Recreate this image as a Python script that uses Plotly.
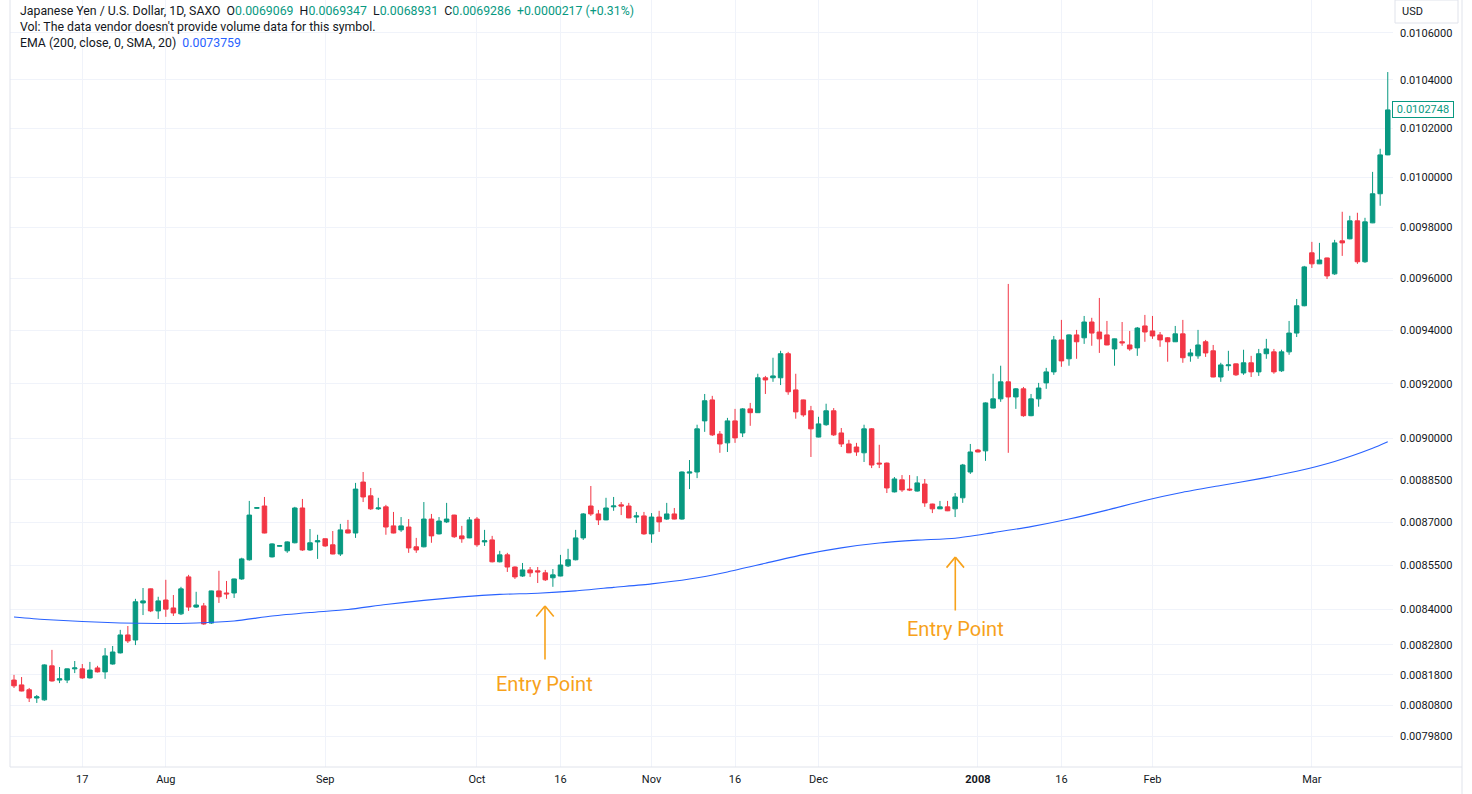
import numpy as np
import pandas as pd
import plotly.graph_objects as go

GREEN = "#089981"
RED = "#F23645"
BLUE = "#2962FF"
ORANGE = "#F7A21B"
TEXT = "#131722"
GRID = "#F0F3FA"
BORDER = "#E0E3EB"
FONT = "Roboto"

missing_days = ["2007-08-13", "2007-08-27"]
dates = [d.strftime("%Y-%m-%d") for d in pd.bdate_range("2007-07-04", "2008-03-17")
         if d.strftime("%Y-%m-%d") not in missing_days]

opens = [0.008163, 0.008147, 0.008131, 0.008104, 0.008098, 0.008210, 0.008163, 0.008163, 0.008200, 0.008200,
         0.008170, 0.008203, 0.008190, 0.008216, 0.008253, 0.008313, 0.008296, 0.008421, 0.008469, 0.008394,
         0.008431, 0.008404, 0.008384, 0.008510, 0.008407, 0.008411, 0.008353, 0.008462, 0.008455, 0.008455,
         0.008503, 0.008569, 0.008749, 0.008757, 0.008579, 0.008616, 0.008600, 0.008628, 0.008750, 0.008603,
         0.008631, 0.008642, 0.008621, 0.008589, 0.008673, 0.008662, 0.008842, 0.008793, 0.008747, 0.008754,
         0.008687, 0.008673, 0.008683, 0.008614, 0.008614, 0.008711, 0.008659, 0.008701, 0.008725, 0.008652,
         0.008645, 0.008711, 0.008631, 0.008638, 0.008562, 0.008586, 0.008544, 0.008513, 0.008534, 0.008531,
         0.008524, 0.008507, 0.008513, 0.008548, 0.008569, 0.008645, 0.008757, 0.008729, 0.008708, 0.008754,
         0.008761, 0.008757, 0.008718, 0.008722, 0.008659, 0.008718, 0.008711, 0.008729, 0.008711, 0.008874,
         0.008878, 0.009063, 0.009140, 0.009015, 0.008983, 0.009063, 0.009019, 0.009107, 0.009093, 0.009222,
         0.009222, 0.009222, 0.009312, 0.009177, 0.009140, 0.009100, 0.009004, 0.009049, 0.009100, 0.009019,
         0.008979, 0.008968, 0.008947, 0.009034, 0.008910, 0.008910, 0.008807, 0.008850, 0.008817, 0.008810,
         0.008835, 0.008764, 0.008747, 0.008754, 0.008747, 0.008786, 0.008878, 0.008957, 0.008954, 0.009110,
         0.009144, 0.009207, 0.009151, 0.009181, 0.009082, 0.009144, 0.009203, 0.009244, 0.009364, 0.009293,
         0.009383, 0.009372, 0.009432, 0.009394, 0.009383, 0.009330, 0.009357, 0.009345, 0.009334, 0.009417,
         0.009398, 0.009383, 0.009372, 0.009357, 0.009387, 0.009304, 0.009304, 0.009357, 0.009323, 0.009225,
         0.009267, 0.009274, 0.009240, 0.009278, 0.009244, 0.009312, 0.009319, 0.009248, 0.009319, 0.009390,
         0.009494, 0.009699, 0.009656, 0.009679, 0.009617, 0.009746, 0.009754, 0.009825, 0.009664, 0.009817,
         0.009933, 0.010090]

highs = [0.008180, 0.008173, 0.008137, 0.008114, 0.008215, 0.008263, 0.008206, 0.008201, 0.008226, 0.008216,
         0.008223, 0.008210, 0.008269, 0.008276, 0.008330, 0.008343, 0.008435, 0.008472, 0.008470, 0.008442,
         0.008500, 0.008448, 0.008476, 0.008517, 0.008459, 0.008421, 0.008463, 0.008531, 0.008496, 0.008504,
         0.008576, 0.008775, 0.008753, 0.008789, 0.008626, 0.008619, 0.008633, 0.008754, 0.008782, 0.008676,
         0.008656, 0.008643, 0.008669, 0.008694, 0.008708, 0.008839, 0.008878, 0.008821, 0.008786, 0.008761,
         0.008736, 0.008718, 0.008711, 0.008645, 0.008771, 0.008729, 0.008718, 0.008768, 0.008726, 0.008687,
         0.008718, 0.008718, 0.008673, 0.008652, 0.008600, 0.008593, 0.008546, 0.008558, 0.008544, 0.008544,
         0.008534, 0.008537, 0.008586, 0.008607, 0.008673, 0.008732, 0.008828, 0.008743, 0.008786, 0.008789,
         0.008771, 0.008768, 0.008736, 0.008736, 0.008732, 0.008740, 0.008768, 0.008750, 0.008880, 0.008921,
         0.009049, 0.009162, 0.009155, 0.009026, 0.009074, 0.009107, 0.009110, 0.009129, 0.009237, 0.009229,
         0.009297, 0.009323, 0.009319, 0.009237, 0.009141, 0.009118, 0.009078, 0.009126, 0.009110, 0.009037,
         0.008994, 0.008983, 0.009049, 0.009037, 0.008976, 0.008912, 0.008860, 0.008867, 0.008867, 0.008863,
         0.008853, 0.008765, 0.008775, 0.008775, 0.008803, 0.008907, 0.008979, 0.008961, 0.009131, 0.009237,
         0.009267, 0.009578, 0.009184, 0.009188, 0.009162, 0.009203, 0.009259, 0.009379, 0.009440, 0.009385,
         0.009402, 0.009455, 0.009448, 0.009524, 0.009436, 0.009369, 0.009432, 0.009398, 0.009413, 0.009459,
         0.009455, 0.009394, 0.009375, 0.009417, 0.009440, 0.009330, 0.009402, 0.009364, 0.009345, 0.009278,
         0.009323, 0.009275, 0.009327, 0.009304, 0.009330, 0.009368, 0.009330, 0.009327, 0.009436, 0.009520,
         0.009648, 0.009742, 0.009738, 0.009680, 0.009750, 0.009861, 0.009845, 0.009857, 0.009837, 0.010021,
         0.010115, 0.010433]

lows = [0.008137, 0.008126, 0.008091, 0.008088, 0.008095, 0.008158, 0.008153, 0.008153, 0.008186, 0.008167,
        0.008168, 0.008188, 0.008167, 0.008214, 0.008251, 0.008286, 0.008279, 0.008380, 0.008390, 0.008367,
        0.008374, 0.008377, 0.008380, 0.008394, 0.008404, 0.008347, 0.008350, 0.008421, 0.008435, 0.008438,
        0.008500, 0.008566, 0.008747, 0.008661, 0.008577, 0.008615, 0.008593, 0.008626, 0.008600, 0.008600,
        0.008572, 0.008614, 0.008588, 0.008582, 0.008661, 0.008645, 0.008771, 0.008743, 0.008743, 0.008656,
        0.008661, 0.008666, 0.008593, 0.008593, 0.008612, 0.008628, 0.008657, 0.008697, 0.008645, 0.008628,
        0.008644, 0.008614, 0.008617, 0.008560, 0.008560, 0.008527, 0.008503, 0.008510, 0.008510, 0.008489,
        0.008496, 0.008476, 0.008512, 0.008544, 0.008567, 0.008638, 0.008722, 0.008690, 0.008707, 0.008740,
        0.008725, 0.008714, 0.008697, 0.008656, 0.008628, 0.008666, 0.008708, 0.008710, 0.008709, 0.008817,
        0.008856, 0.009023, 0.009008, 0.008947, 0.008950, 0.008983, 0.009004, 0.009045, 0.009092, 0.009162,
        0.009207, 0.009195, 0.009159, 0.009071, 0.009078, 0.008932, 0.009003, 0.009045, 0.009008, 0.008968,
        0.008946, 0.008936, 0.008914, 0.008892, 0.008892, 0.008803, 0.008805, 0.008807, 0.008810, 0.008808,
        0.008754, 0.008732, 0.008746, 0.008739, 0.008718, 0.008768, 0.008871, 0.008949, 0.008918, 0.009109,
        0.009133, 0.008947, 0.009107, 0.009078, 0.009080, 0.009115, 0.009181, 0.009233, 0.009263, 0.009267,
        0.009293, 0.009349, 0.009342, 0.009315, 0.009344, 0.009267, 0.009342, 0.009323, 0.009304, 0.009357,
        0.009368, 0.009338, 0.009282, 0.009356, 0.009278, 0.009282, 0.009293, 0.009300, 0.009224, 0.009207,
        0.009248, 0.009229, 0.009233, 0.009225, 0.009229, 0.009293, 0.009237, 0.009244, 0.009308, 0.009375,
        0.009492, 0.009640, 0.009655, 0.009597, 0.009613, 0.009687, 0.009752, 0.009656, 0.009660, 0.009816,
        0.009885, 0.010089]

closes = [0.008144, 0.008127, 0.008104, 0.008108, 0.008213, 0.008160, 0.008167, 0.008200, 0.008203, 0.008170,
          0.008196, 0.008190, 0.008243, 0.008256, 0.008313, 0.008293, 0.008425, 0.008428, 0.008394, 0.008428,
          0.008400, 0.008387, 0.008469, 0.008407, 0.008414, 0.008350, 0.008462, 0.008442, 0.008452, 0.008503,
          0.008572, 0.008725, 0.008751, 0.008662, 0.008624, 0.008618, 0.008631, 0.008750, 0.008603, 0.008628,
          0.008635, 0.008617, 0.008589, 0.008673, 0.008662, 0.008817, 0.008789, 0.008747, 0.008750, 0.008683,
          0.008662, 0.008687, 0.008610, 0.008603, 0.008711, 0.008652, 0.008704, 0.008711, 0.008649, 0.008642,
          0.008708, 0.008621, 0.008635, 0.008562, 0.008586, 0.008544, 0.008510, 0.008534, 0.008524, 0.008527,
          0.008500, 0.008517, 0.008551, 0.008569, 0.008645, 0.008729, 0.008729, 0.008708, 0.008750, 0.008757,
          0.008757, 0.008715, 0.008722, 0.008659, 0.008718, 0.008701, 0.008729, 0.008711, 0.008878, 0.008878,
          0.009034, 0.009137, 0.009012, 0.008979, 0.009063, 0.009001, 0.009107, 0.009093, 0.009222, 0.009214,
          0.009229, 0.009312, 0.009170, 0.009096, 0.009085, 0.009034, 0.009052, 0.009100, 0.009012, 0.008979,
          0.008947, 0.008950, 0.009034, 0.008903, 0.008907, 0.008821, 0.008853, 0.008814, 0.008814, 0.008839,
          0.008768, 0.008747, 0.008754, 0.008740, 0.008789, 0.008903, 0.008950, 0.008950, 0.009129, 0.009144,
          0.009207, 0.009151, 0.009181, 0.009082, 0.009144, 0.009184, 0.009244, 0.009364, 0.009285, 0.009383,
          0.009357, 0.009432, 0.009390, 0.009368, 0.009345, 0.009368, 0.009353, 0.009330, 0.009409, 0.009394,
          0.009379, 0.009364, 0.009357, 0.009387, 0.009297, 0.009315, 0.009345, 0.009315, 0.009225, 0.009270,
          0.009270, 0.009233, 0.009278, 0.009244, 0.009312, 0.009330, 0.009244, 0.009319, 0.009390, 0.009494,
          0.009644, 0.009656, 0.009671, 0.009609, 0.009738, 0.009738, 0.009825, 0.009664, 0.009821, 0.009933,
          0.010090, 0.0102748]

ema_index = [0, 4, 9, 14, 19, 24, 29, 34, 39, 44, 49, 54, 59, 64, 69, 74, 79, 84, 89, 94,
             99, 104, 109, 114, 119, 124, 129, 134, 139, 144, 149, 154, 159, 164, 169, 174, 179, 181]
ema_values = [0.0083735, 0.0083651, 0.0083584, 0.0083533, 0.0083516, 0.0083533, 0.0083600, 0.0083768,
              0.0083886, 0.0083987, 0.0084159, 0.0084296, 0.0084416, 0.0084501, 0.0084542, 0.0084621,
              0.0084741, 0.0084860, 0.0085025, 0.0085271, 0.0085570, 0.0085869, 0.0086103, 0.0086270,
              0.0086371, 0.0086440, 0.0086635, 0.0086844, 0.0087109, 0.0087424, 0.0087767, 0.0088058,
              0.0088298, 0.0088534, 0.0088805, 0.0089159, 0.0089635, 0.0089870]
ema_dates = [dates[i] for i in ema_index]

tick_dates = ["2007-07-17", "2007-08-01", "2007-09-03", "2007-10-01", "2007-10-16", "2007-11-01",
              "2007-11-16", "2007-12-03", "2008-01-01", "2008-01-16", "2008-02-01", "2008-03-03"]
tick_labels = ["17", "Aug", "Sep", "Oct", "16", "Nov", "16", "Dec", "<b>2008</b>", "16", "Feb", "Mar"]

price_ticks = [0.0106, 0.0104, 0.0102, 0.0100, 0.0098, 0.0096, 0.0094, 0.0092, 0.0090,
               0.00885, 0.0087, 0.00855, 0.0084, 0.00828, 0.00818, 0.00808, 0.00798]
price_labels = [f"{v:.7f}" for v in price_ticks]

last_close = 0.0102748
entry_points = [  # (bar position, arrow tip price, label price)
    (69.96, 0.0084108, 0.0081502),
    (124.02, 0.0085782, 0.0083332),
]

fig = go.Figure()
fig.add_trace(go.Candlestick(
    x=dates, open=opens, high=highs, low=lows, close=closes,
    increasing=dict(line=dict(color=GREEN, width=1), fillcolor=GREEN),
    decreasing=dict(line=dict(color=RED, width=1), fillcolor=RED),
    whiskerwidth=0, showlegend=False, name="JPYUSD",
))
fig.add_trace(go.Scatter(
    x=ema_dates, y=ema_values, mode="lines",
    line=dict(color=BLUE, width=1.1, shape="spline", smoothing=0.6),
    showlegend=False, hoverinfo="skip", name="EMA 200",
))

# plot area geometry in pixels
W, H = 1472, 794
L, R, T, B = 10, 79, 0, 27
pw, ph = W - L - R, H - T - B


def px_x(px):
    return (px - L) / pw


def px_y(py):
    return (H - B - py) / ph


ann = []
g = lambda s: f"<span style='color:{GREEN}'>{s}</span>"
sp = "\u00a0\u00a0"
HF = 12.3
ann.append(dict(xref="paper", yref="paper", x=px_x(18), y=px_y(11), xanchor="left", yanchor="middle",
                showarrow=False, font=dict(family=FONT, size=HF, color=TEXT),
                text="Japanese Yen / U.S. Dollar, 1D, SAXO" + sp + "O" + g("0.0069069") + sp + "H" + g("0.0069347")
                     + sp + "L" + g("0.0068931") + sp + "C" + g("0.0069286") + sp + g("+0.0000217 (+0.31%)")))
ann.append(dict(xref="paper", yref="paper", x=px_x(18), y=px_y(27), xanchor="left", yanchor="middle",
                showarrow=False, font=dict(family=FONT, size=HF, color=TEXT),
                text="Vol: The data vendor doesn't provide volume data for this symbol."))
ann.append(dict(xref="paper", yref="paper", x=px_x(18), y=px_y(43), xanchor="left", yanchor="middle",
                showarrow=False, font=dict(family=FONT, size=HF, color=TEXT),
                text="EMA (200, close, 0, SMA, 20)" + sp + f"<span style='color:{BLUE}'>0.0073759</span>"))

# USD label
ann.append(dict(xref="paper", yref="paper", x=px_x(1400), y=px_y(11), xanchor="left", yanchor="middle",
                showarrow=False, font=dict(family=FONT, size=11, color=TEXT), text="USD"))
# last price tag
ann.append(dict(xref="paper", yref="y", x=px_x(1392), y=np.log10(last_close), xanchor="left", yanchor="middle",
                showarrow=False, font=dict(family=FONT, size=11, color=GREEN), text=f"{last_close:.7f}",
                bordercolor=GREEN, borderwidth=1, bgcolor="white", borderpad=1, width=58, height=13))

for xpos, tip, lab in entry_points:
    for ax, ay in [(0, 55), (-10, 12), (10, 12)]:
        ann.append(dict(xref="x", yref="y", x=xpos, y=np.log10(tip), text="", showarrow=True,
                        arrowhead=0, arrowwidth=1.6, arrowcolor=ORANGE, ax=ax, ay=ay, standoff=0, startstandoff=0))
    ann.append(dict(xref="x", yref="y", x=xpos, y=np.log10(lab), text="Entry Point", showarrow=False,
                    xanchor="center", yanchor="middle", font=dict(family=FONT, size=20, color=ORANGE)))

shapes = [
    dict(type="line", xref="paper", yref="paper", x0=0, x1=0, y0=0, y1=1, line=dict(color=BORDER, width=1)),
    dict(type="line", xref="paper", yref="paper", x0=0, x1=px_x(1462), y0=0, y1=0, line=dict(color=BORDER, width=1)),
    dict(type="line", xref="paper", yref="paper", x0=px_x(1462), x1=px_x(1462), y0=px_y(794), y1=1,
         line=dict(color=BORDER, width=1)),
    dict(type="rect", xref="paper", yref="paper", x0=px_x(1395), x1=px_x(1458), y0=px_y(23), y1=px_y(0),
         line=dict(color=BORDER, width=1)),
]

top_val = 0.0106 * np.exp(32.7 / 2478)
bot_val = 0.0106 * np.exp(-(767 - 32.7) / 2478)

fig.update_layout(
    width=W, height=H, margin=dict(l=L, r=R, t=T, b=B),
    paper_bgcolor="white", plot_bgcolor="white",
    font=dict(family=FONT, color=TEXT),
    boxgap=0.3, boxgroupgap=0.15,
    annotations=ann, shapes=shapes,
    xaxis=dict(type="category", categoryorder="trace", range=[-0.527, 181.69],
               tickmode="array", tickvals=tick_dates, ticktext=tick_labels, ticks="",
               showgrid=True, gridcolor=GRID, gridwidth=1, showline=False, zeroline=False,
               tickfont=dict(family=FONT, size=11, color=TEXT), ticklabelstandoff=4,
               rangeslider=dict(visible=False), fixedrange=True),
    yaxis=dict(type="log", side="right", range=[np.log10(bot_val), np.log10(top_val)],
               tickmode="array", tickvals=price_ticks, ticktext=price_labels, ticks="",
               showgrid=True, gridcolor=GRID, gridwidth=1, showline=False, zeroline=False,
               tickfont=dict(family=FONT, size=11, color=TEXT), ticklabelstandoff=6, fixedrange=True),
    hovermode="x",
)

fig.write_html("out.html")
